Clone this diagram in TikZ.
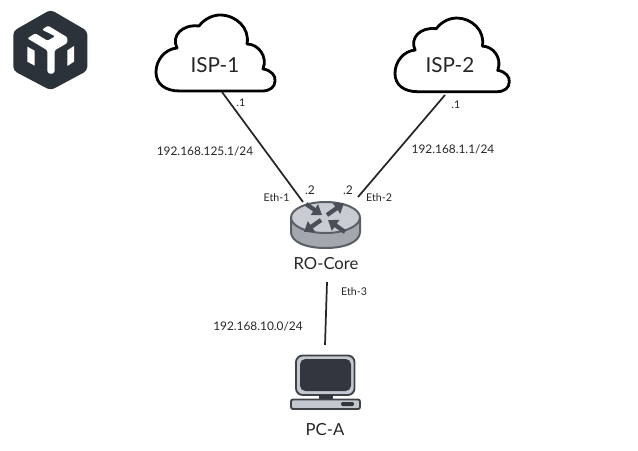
\documentclass[tikz,border=0pt]{standalone}
\usepackage{fontspec}
\setmainfont{Lato}
\usetikzlibrary{arrows.meta}
\definecolor{logod}{HTML}{2B3239}
\definecolor{rtop}{HTML}{C9CDD3}
\definecolor{rside}{HTML}{A3A7AE}
\definecolor{rline}{HTML}{5A5F67}
\definecolor{darkg}{HTML}{4A4E56}
\definecolor{pcdark}{HTML}{33363F}
\definecolor{pclight}{HTML}{C3C8CF}
\tikzset{
  cloudline/.style={draw=black,line width=2.1pt,fill=white,line join=round},
  link/.style={draw=black!85,line width=1.3pt},
  lab/.style={inner sep=0pt,font=\fontsize{8.9pt}{10pt}\selectfont,text=black!85},
  tiny/.style={inner sep=0pt,font=\fontsize{8pt}{9pt}\selectfont,text=black!85},
  dotlab/.style={inner sep=0pt,font=\fontsize{9pt}{10pt}\selectfont,text=black!85},
  big/.style={inner sep=0pt,font=\fontsize{15.5pt}{17pt}\selectfont,text=black!85},
  mid/.style={inner sep=0pt,font=\fontsize{12.5pt}{14pt}\selectfont,text=black!85},
  rarrow/.style={draw=darkg,line width=3.2pt,-{Triangle[length=7pt,width=9.5pt]}},
}
\newcommand{\cloudshape}{(24,76) .. controls (9,76) and (0,69) .. (0,57)
  .. controls (0,45) and (9,34) .. (21,33)
  .. controls (15,21) and (26,9) .. (43,11)
  .. controls (49,3) and (58,0) .. (64,0)
  .. controls (80,0) and (94,13) .. (91,29)
  .. controls (102,29) and (112,41) .. (107,54)
  .. controls (115,55) and (120,61) .. (119,66)
  .. controls (119,72) and (114,76) .. (106,76) -- cycle}
\begin{document}
\begin{tikzpicture}[x=0.75pt,y=-0.75pt]
\useasboundingbox (0,0) rectangle (638,450);
% logo
\begin{scope}[shift={(8,5)},x=0.25pt,y=-0.25pt]
  \fill[logod,rounded corners=3pt] (128,14) -- (238,78) -- (238,197) -- (128,256) -- (16,197) -- (16,78) -- cycle;
  \fill[white,rounded corners=1pt] (58,100) -- (82,85) -- (118,107) -- (142,94) -- (102,74) -- (120,62) -- (178,97) -- (178,114) -- (140,136) -- (140,202) -- (129,208) -- (118,202) -- (118,136) -- cycle;
  \fill[white] (58,125) -- (80,137) -- (80,182) -- (58,170) -- cycle;
  \fill[white] (178,136) -- (198,123) -- (198,170) -- (178,183) -- cycle;
\end{scope}
% clouds
\draw[cloudline,shift={(156,15)}] \cloudshape;
\draw[cloudline,shift={(395,18)},xscale=.96,yscale=.97] \cloudshape;
\node[big] (isp1) at (215,65) {ISP-1};
\node[big] (isp2) at (450,65) {ISP-2};
% router
\draw[rline,fill=rside,line width=1.5pt] (291,218) -- (291,232) .. controls (291,242) and (306,248) .. (325.5,248) .. controls (345,248) and (360,242) .. (360,232) -- (360,218) -- cycle;
\draw[rline,fill=rtop,line width=1.5pt] (325.5,217.5) ellipse[x radius=34.5,y radius=15.5];
\draw[rarrow] (306,204) -- (322,215);
\draw[rarrow] (327,215) -- (344,203);
\draw[rarrow] (321,220) -- (304,232);
\draw[rarrow] (345,232) -- (328,220);
\node[mid] (rocore) at (326,264) {RO-Core};
\coordinate (r1) at (303,202);
\coordinate (r2) at (358,197);
\coordinate (r3) at (327,282);
% pc
\draw[rline!70!black,fill=pclight,line width=1.4pt,rounded corners=5pt] (296,355.5) rectangle (354.5,395);
\fill[pcdark,rounded corners=4pt] (300,359) rectangle (351,391);
\fill[pcdark] (319,395) rectangle (333,399.5);
\draw[rline!70!black,fill=pclight,line width=1.4pt,rounded corners=1.5pt] (291,399.5) rectangle (360,409);
\fill[pcdark,rounded corners=1pt] (341,402) rectangle (354,406);
\coordinate (pctop) at (325,345);
\node[mid] (pca) at (325,430) {PC-A};
% links
\coordinate (c1) at (222,92);
\coordinate (c2) at (445,95);
\draw[link] (c1) -- (r1);
\draw[link] (c2) -- (r2);
\draw[link] (r3) -- (pctop);
% labels
\node[tiny] (d1) at (241,103) {.1};
\node[tiny] (d2) at (456,105) {.1};
\node[lab] (n1) at (205,151) {192.168.125.1/24};
\node[lab] (n2) at (453,149) {192.168.1.1/24};
\node[dotlab] (d3) at (310,190) {.2};
\node[dotlab] (d4) at (348,190) {.2};
\node[tiny] (e1) at (276.5,198) {Eth-1};
\node[tiny] (e2) at (379,198) {Eth-2};
\node[tiny] (e3) at (354,292) {Eth-3};
\node[lab] (n3) at (258,326) {192.168.10.0/24};
\end{tikzpicture}
\end{document}
